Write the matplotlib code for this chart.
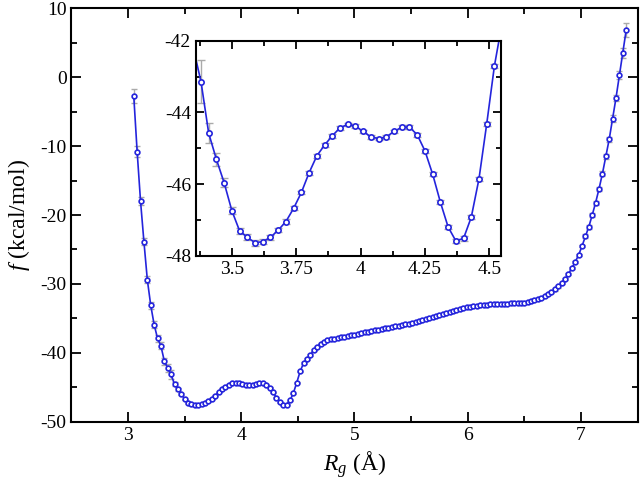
import matplotlib
matplotlib.use("Agg")
import matplotlib.pyplot as plt
import matplotlib.ticker as ticker

# Radius of gyration grid (A) and free energy (kcal/mol)
rg = [3.05 + 0.03 * k for k in range(146)]

free_energy = [
    -2.7, -10.8, -18.0, -23.9, -29.4, -33.1, -35.9, -37.9, -39.0, -41.2,
    -42.2, -43.14, -44.58, -45.31, -45.96, -46.74, -47.30, -47.48, -47.63, -47.60,
    -47.48, -47.28, -47.04, -46.67, -46.23, -45.68, -45.21, -44.91, -44.65, -44.43,
    -44.33, -44.38, -44.53, -44.68, -44.73, -44.68, -44.53, -44.41, -44.41, -44.62,
    -45.07, -45.72, -46.50, -47.19, -47.58, -47.51, -46.92, -45.85, -44.32, -42.70,
    -41.5, -40.9, -40.3, -39.6, -39.1, -38.7, -38.4, -38.2, -38.05, -37.95,
    -37.85, -37.75, -37.65, -37.55, -37.45, -37.35, -37.25, -37.15, -37.05, -36.95,
    -36.85, -36.75, -36.65, -36.55, -36.45, -36.35, -36.25, -36.15, -36.05, -35.95,
    -35.85, -35.75, -35.65, -35.55, -35.45, -35.3, -35.15, -35.0, -34.85, -34.7,
    -34.55, -34.4, -34.25, -34.1, -33.95, -33.8, -33.65, -33.5, -33.4, -33.3,
    -33.2, -33.15, -33.1, -33.05, -33.0, -32.95, -32.95, -32.9, -32.9, -32.85,
    -32.85, -32.8, -32.8, -32.75, -32.75, -32.7, -32.65, -32.55, -32.4, -32.25,
    -32.05, -31.8, -31.5, -31.15, -30.8, -30.35, -29.85, -29.3, -28.55, -27.7,
    -26.8, -25.8, -24.5, -23.1, -21.7, -20.0, -18.2, -16.2, -14.0, -11.5,
    -9.0, -6.0, -3.0, 0.3, 3.5, 6.85,
]

error = [
    1.0, 0.8, 0.6, 0.5, 0.5, 0.5, 0.5, 0.5, 0.5, 0.5,
    0.6, 0.6, 0.28, 0.19, 0.12, 0.1, 0.08, 0.08, 0.08, 0.07,
    0.07, 0.06, 0.06, 0.06, 0.05, 0.05, 0.05, 0.05, 0.05, 0.05,
    0.05, 0.05, 0.05, 0.05, 0.05, 0.05, 0.05, 0.05, 0.05, 0.05,
    0.06, 0.06, 0.06, 0.06, 0.06, 0.06, 0.06, 0.06, 0.06, 0.06,
    0.1, 0.1, 0.1, 0.1, 0.1, 0.1, 0.1, 0.1, 0.1, 0.1,
    0.1, 0.1, 0.1, 0.1, 0.1, 0.1, 0.1, 0.1, 0.1, 0.1,
    0.1, 0.1, 0.1, 0.1, 0.1, 0.1, 0.1, 0.1, 0.1, 0.1,
    0.1, 0.1, 0.1, 0.1, 0.1, 0.1, 0.1, 0.1, 0.1, 0.1,
    0.1, 0.1, 0.1, 0.1, 0.1, 0.1, 0.1, 0.1, 0.1, 0.1,
    0.1, 0.1, 0.1, 0.1, 0.1, 0.1, 0.1, 0.1, 0.1, 0.1,
    0.1, 0.1, 0.1, 0.1, 0.1, 0.1, 0.1, 0.1, 0.1, 0.1,
    0.15, 0.15, 0.15, 0.15, 0.2, 0.2, 0.2, 0.2, 0.2, 0.2,
    0.2, 0.2, 0.2, 0.3, 0.3, 0.3, 0.3, 0.3, 0.4, 0.4,
    0.4, 0.5, 0.5, 0.6, 0.7, 1.0,
]

main_xticks = [3, 4, 5, 6, 7]
main_yticks = [-50, -40, -30, -20, -10, 0, 10]
inset_xticks = [3.5, 3.75, 4.0, 4.25, 4.5]
inset_xlabels = ["3.5", "3.75", "4", "4.25", "4.5"]
inset_yticks = [-48, -46, -44, -42]

plt.rcParams["font.family"] = ["Liberation Serif", "DejaVu Serif"]
plt.rcParams["mathtext.fontset"] = "custom"
plt.rcParams["mathtext.rm"] = "Liberation Serif"
plt.rcParams["mathtext.it"] = "Liberation Serif:italic"
plt.rcParams["axes.unicode_minus"] = False

LINE = "#2424dc"
ERR = "#aaaaaa"


def draw_curve(ax, ms, cap):
    ax.errorbar(rg, free_energy, yerr=error, fmt="none", ecolor=ERR,
                elinewidth=1.0, capsize=cap, capthick=1.0, zorder=1)
    ax.plot(rg, free_energy, color=LINE, linewidth=1.2, marker="o",
            markersize=ms, markerfacecolor="white", markeredgecolor=LINE,
            markeredgewidth=1.2, zorder=2)


def style_axes(ax, major, minor):
    ax.tick_params(which="both", direction="in", top=True, right=True,
                   width=1.3, labelsize=14)
    ax.tick_params(which="major", length=major)
    ax.tick_params(which="minor", length=minor)
    for s in ax.spines.values():
        s.set_linewidth(1.5)


fig = plt.figure(figsize=(6.4, 4.8), dpi=100)

ax = fig.add_axes([0.1117, 0.1215, 0.8844, 0.861])
draw_curve(ax, 3.4, 2)
ax.set_xlim(2.5, 7.5)
ax.set_ylim(-50, 10)
ax.set_xticks(main_xticks)
ax.set_yticks(main_yticks)
ax.xaxis.set_minor_locator(ticker.MultipleLocator(0.5))
ax.yaxis.set_minor_locator(ticker.MultipleLocator(5))
style_axes(ax, 7, 4)
ax.set_xlabel(r"$R_g$ (Å)", fontsize=17, labelpad=4)
ax.set_ylabel(r"$f$ (kcal/mol)", fontsize=17, labelpad=6)

ins = fig.add_axes([0.306, 0.4667, 0.4766, 0.4485])
draw_curve(ins, 3.8, 3)
ins.set_xlim(3.36, 4.545)
ins.set_ylim(-48, -42)
ins.set_xticks(inset_xticks)
ins.set_xticklabels(inset_xlabels)
ins.set_yticks(inset_yticks)
ins.xaxis.set_minor_locator(ticker.MultipleLocator(0.125))
ins.yaxis.set_minor_locator(ticker.MultipleLocator(1))
style_axes(ins, 6, 3.5)

fig.savefig("out.png", dpi=100)
plt.close(fig)
